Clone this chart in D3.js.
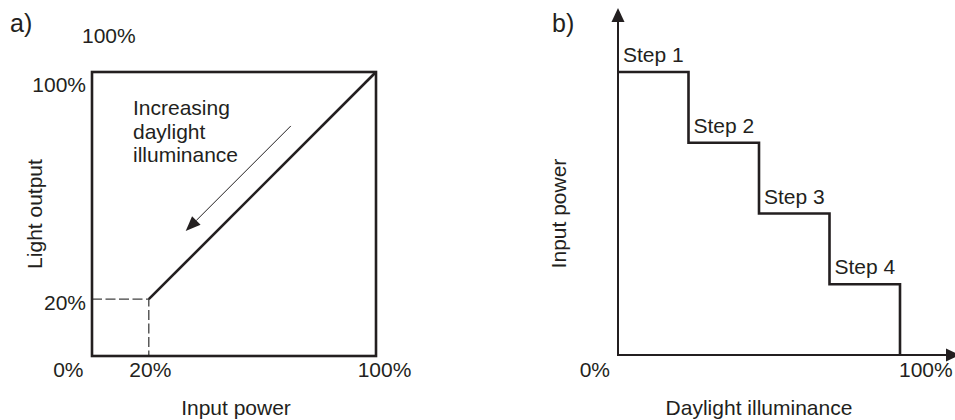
<!DOCTYPE html>
<html>
<head>
<meta charset="utf-8">
<script src="https://cdn.jsdelivr.net/npm/d3@7/dist/d3.min.js"></script>
<style>
  html, body { margin: 0; padding: 0; background: #fff; }
  svg text { font-family: "Liberation Sans", Arial, Helvetica, sans-serif; fill: #231f20; }
</style>
</head>
<body>
<svg id="chart" width="955" height="420"></svg>
<script>
// ---------- DATA ----------
// Panel a: light output vs input power (dimming curve)
const aTicksX = [0, 20, 100];          // input power tick labels (%)
const aTicksY = [20, 100];             // light output tick labels (%)
const aCurve = [ {power: 20, light: 20}, {power: 100, light: 100} ];
const aMin = {power: 20, light: 20};   // minimum dimming level (dashed guides)
const aArrowFrom = [70, 81];           // annotation arrow (data units)
const aArrowTo = [33, 44];
const aNote = ["Increasing", "daylight", "illuminance"];

// Panel b: stepped input power vs daylight illuminance
const bSteps = ["Step 1", "Step 2", "Step 3", "Step 4"];
const bStepStart = [0, 25, 50, 75];     // daylight illuminance where step begins (%)
const bStepPower = [100, 75, 50, 25];   // relative input power of each step
const bTicksX = [0, 100];

// ---------- DRAW ----------
const svg = d3.select("#chart");
const ink = "#231f20";
const fs = 21;

// ===== Panel a =====
const xA = d3.scaleLinear().domain([0, 100]).range([92, 376]);
const yA = d3.scaleLinear().domain([0, 100]).range([356, 72]);

const gA = svg.append("g");

// dashed guides
gA.append("path")
  .attr("d", d3.line()([[xA(0), yA(aMin.light)], [xA(aMin.power), yA(aMin.light)], [xA(aMin.power), yA(0)]]))
  .attr("fill", "none").attr("stroke", "#404040").attr("stroke-width", 1.3)
  .attr("stroke-dasharray", "10,3.5");

// frame
gA.append("rect")
  .attr("x", xA(0)).attr("y", yA(100))
  .attr("width", xA(100) - xA(0)).attr("height", yA(0) - yA(100))
  .attr("fill", "none").attr("stroke", ink).attr("stroke-width", 2.6);

// curve
gA.append("path")
  .datum(aCurve)
  .attr("d", d3.line().x(d => xA(d.power)).y(d => yA(d.light)))
  .attr("fill", "none").attr("stroke", ink).attr("stroke-width", 2.6);

// axes (labels only)
const axA_y = gA.append("g").attr("transform", `translate(${xA(0)},0)`)
  .call(d3.axisLeft(yA).tickValues(aTicksY).tickSize(0).tickPadding(6).tickFormat(d => d + "%"));
axA_y.select(".domain").remove();
axA_y.selectAll("text")
  .attr("font-size", fs).attr("font-family", null).attr("fill", ink)
  .attr("dy", d => d === 100 ? "0.95em" : "0.48em");

const axA_x = gA.append("g").attr("transform", `translate(0,${yA(0)})`)
  .call(d3.axisBottom(xA).tickValues(aTicksX).tickSize(0).tickPadding(6).tickFormat(d => d + "%"));
axA_x.select(".domain").remove();
axA_x.selectAll("text")
  .attr("font-size", fs).attr("font-family", null).attr("fill", ink)
  .attr("dy", "0.71em")
  .attr("text-anchor", d => d === 0 ? "end" : "middle")
  .attr("x", d => d === 0 ? -9 : (d === 100 ? 8 : 1));

// stray top label
gA.append("text").attr("x", xA(0) - 10).attr("y", yA(100) - 29)
  .attr("font-size", fs).text("100%");

// panel letter
gA.append("text").attr("x", 10).attr("y", 32).attr("font-size", 25).text("a)");

// axis titles
gA.append("text").attr("x", (xA(0) + xA(100)) / 2 + 2).attr("y", 415)
  .attr("text-anchor", "middle").attr("font-size", fs).text("Input power");
gA.append("text").attr("transform", `translate(42,${(yA(0) + yA(100)) / 2}) rotate(-90)`)
  .attr("text-anchor", "middle").attr("font-size", fs).text("Light output");

// annotation text
gA.append("text").attr("x", xA(0) + 41).attr("y", 115).attr("font-size", fs)
  .selectAll("tspan").data(aNote).join("tspan")
  .attr("x", xA(0) + 41).attr("dy", (d, i) => i === 0 ? 0 : 23.5).text(d => d);

// annotation arrow
{
  const x1 = xA(aArrowFrom[0]), y1 = yA(aArrowFrom[1]);
  const x2 = xA(aArrowTo[0]), y2 = yA(aArrowTo[1]);
  const ang = Math.atan2(y2 - y1, x2 - x1);
  const L = 15, W = 6;
  const bx = x2 - L * Math.cos(ang), by = y2 - L * Math.sin(ang);
  gA.append("line").attr("x1", x1).attr("y1", y1).attr("x2", bx).attr("y2", by)
    .attr("stroke", ink).attr("stroke-width", 1);
  gA.append("path")
    .attr("d", `M${x2},${y2} L${bx + W * Math.sin(ang)},${by - W * Math.cos(ang)} L${bx - W * Math.sin(ang)},${by + W * Math.cos(ang)} Z`)
    .attr("fill", ink);
}

// ===== Panel b =====
const xB = d3.scaleLinear().domain([0, 100]).range([618, 900]);
const yB = d3.scaleLinear().domain([0, 100]).range([355, 72]);
const gB = svg.append("g");

// axes with arrows
const yTop = 8, xRight = 960;
gB.append("line").attr("x1", xB(0)).attr("y1", yB(0)).attr("x2", xB(0)).attr("y2", yTop + 12)
  .attr("stroke", ink).attr("stroke-width", 2);
gB.append("path").attr("d", `M${xB(0)},${yTop} L${xB(0) - 6.5},${yTop + 14} L${xB(0) + 6.5},${yTop + 14} Z`).attr("fill", ink);
gB.append("line").attr("x1", xB(0) - 1).attr("y1", yB(0)).attr("x2", xRight - 12).attr("y2", yB(0))
  .attr("stroke", ink).attr("stroke-width", 2);
gB.append("path").attr("d", `M${xRight},${yB(0)} L${xRight - 14},${yB(0) - 6.5} L${xRight - 14},${yB(0) + 6.5} Z`).attr("fill", ink);

// step curve
const stepPts = [];
bStepStart.forEach((s, i) => {
  const e = i < bStepStart.length - 1 ? bStepStart[i + 1] : 100;
  stepPts.push([s, bStepPower[i]], [e, bStepPower[i]]);
});
stepPts.push([100, 0]);
gB.append("path")
  .datum(stepPts)
  .attr("d", d3.line().x(d => xB(d[0])).y(d => yB(d[1])))
  .attr("fill", "none").attr("stroke", ink).attr("stroke-width", 2.6);

// step labels
gB.selectAll("text.step").data(bSteps).join("text").attr("class", "step")
  .attr("x", (d, i) => xB(bStepStart[i]) + 5)
  .attr("y", (d, i) => yB(bStepPower[i]) - 10)
  .attr("font-size", fs).text(d => d);

// x tick labels
gB.selectAll("text.tick").data(bTicksX).join("text").attr("class", "tick")
  .attr("x", d => d === 0 ? xB(d) - 8 : xB(d) - 1)
  .attr("y", yB(0) + 22)
  .attr("text-anchor", d => d === 0 ? "end" : "start")
  .attr("font-size", fs).text(d => d + "%");

gB.append("text").attr("x", 552).attr("y", 32).attr("font-size", 25).text("b)");
gB.append("text").attr("x", (xB(0) + xB(100)) / 2).attr("y", 415)
  .attr("text-anchor", "middle").attr("font-size", fs).text("Daylight illuminance");
gB.append("text").attr("transform", `translate(566,${(yB(0) + yB(100)) / 2}) rotate(-90)`)
  .attr("text-anchor", "middle").attr("font-size", fs).text("Input power");
</script>
</body>
</html>
